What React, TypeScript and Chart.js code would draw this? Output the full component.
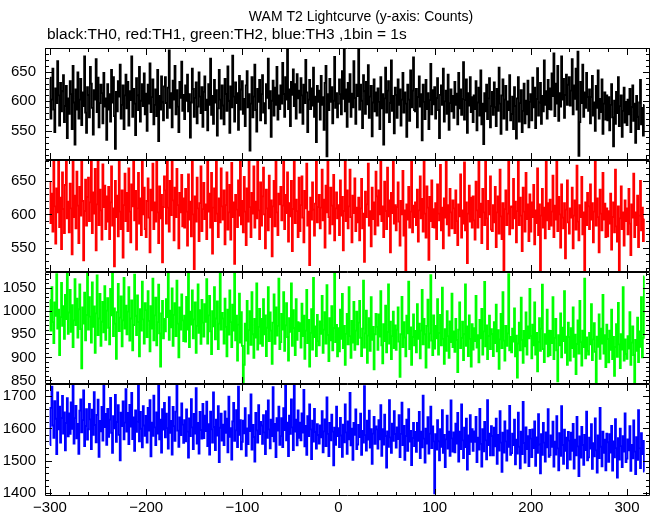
import { useEffect, useRef } from 'react';
import { Chart, registerables } from 'chart.js';

Chart.register(...registerables);

// Lightcurve bins: first bin at t = -300 s, 1 bin = 1 s
const TIME_START = -300;

const TH0 = [
  640, 571, 603, 655, 586, 548, 622, 597, 668, 610, 559, 631, 583, 617, 644, 565, 592, 626, 538, 605,
  579, 634, 612, 553, 660, 598, 527, 620, 586, 649, 571, 603, 638, 560, 615, 592, 676, 581, 547, 624,
  611, 573, 658, 630, 589, 544, 619, 603, 671, 582, 640, 556, 597, 628, 614, 563, 648, 591, 605, 535,
  629, 586, 612, 566, 653, 598, 641, 575, 520, 616, 583, 634, 608, 662, 571, 594, 627, 553, 610, 645,
  588, 633, 559, 617, 602, 676, 574, 621, 596, 543, 639, 610, 585, 658, 566, 601, 629, 592, 647, 578,
  613, 550, 628, 596, 664, 582, 607, 637, 561, 594, 620, 575, 653, 533, 609, 586, 642, 598, 568, 625,
  641, 597, 572, 623, 686, 589, 614, 556, 635, 603, 660, 578, 619, 591, 548, 633, 606, 667, 584, 611,
  570, 627, 601, 645, 583, 612, 539, 598, 655, 621, 574, 606, 632, 563, 591, 649, 608, 580, 624, 557,
  616, 642, 585, 603, 551, 629, 594, 672, 577, 609, 562, 636, 598, 619, 542, 588, 653, 603, 571, 627,
  593, 561, 638, 612, 584, 659, 601, 547, 625, 590, 677, 608, 566, 632, 597, 614, 552, 643, 586, 620,
  634, 579, 604, 558, 627, 651, 590, 612, 517, 596, 641, 573, 608, 662, 585, 549, 621, 599, 636, 568,
  612, 644, 581, 597, 563, 629, 606, 672, 588, 617, 540, 601, 635, 576, 623, 594, 658, 569, 610, 587,
  627, 596, 665, 612, 574, 641, 603, 688, 587, 620, 558, 633, 611, 654, 592, 629, 571, 646, 605, 618,
  581, 639, 610, 562, 628, 597, 670, 615, 548, 603, 636, 587, 622, 593, 657, 574, 608, 531, 626, 599,
  618, 569, 643, 594, 607, 552, 631, 660, 507, 612, 585, 638, 599, 624, 563, 601, 675, 589, 614, 573,
  596, 637, 612, 578, 651, 604, 689, 583, 620, 557, 631, 599, 646, 574, 613, 590, 668, 606, 562, 628,
  609, 690, 586, 628, 601, 555, 644, 617, 579, 633, 595, 661, 572, 608, 626, 541, 598, 637, 583, 615,
  576, 622, 599, 553, 641, 588, 612, 527, 605, 657, 581, 618, 634, 565, 597, 669, 584, 609, 546, 623,
  611, 572, 637, 594, 620, 559, 603, 648, 581, 615, 596, 540, 628, 603, 567, 652, 590, 618, 674, 585,
  583, 621, 556, 607, 642, 591, 612, 534, 628, 599, 570, 636, 587, 614, 553, 602, 663, 578, 619, 595,
  624, 571, 606, 639, 585, 538, 611, 627, 594, 655, 566, 600, 618, 579, 645, 552, 597, 620, 583, 609,
  572, 633, 594, 613, 561, 648, 588, 620, 577, 604, 666, 569, 602, 637, 547, 614, 593, 641, 582, 607,
  565, 610, 587, 634, 551, 598, 623, 576, 652, 561, 596, 528, 614, 583, 628, 570, 605, 639, 556, 592,
  616, 577, 632, 590, 558, 621, 584, 657, 596, 545, 610, 637, 571, 603, 626, 552, 600, 585, 644, 568,
  579, 608, 553, 624, 592, 537, 605, 641, 566, 597, 619, 548, 584, 630, 563, 601, 578, 635, 556, 599,
  612, 568, 640, 590, 623, 555, 604, 656, 576, 598, 631, 562, 609, 583, 669, 594, 617, 571, 636, 587,
  622, 586, 647, 609, 681, 575, 630, 596, 660, 567, 614, 591, 676, 603, 638, 572, 611, 645, 594, 628,
  641, 593, 618, 671, 578, 627, 604, 655, 586, 684, 508, 565, 633, 597, 662, 574, 615, 589, 648, 607,
  584, 620, 563, 607, 643, 576, 598, 550, 626, 589, 652, 571, 604, 582, 637, 545, 596, 615, 569, 610,
  568, 607, 551, 594, 629, 573, 524, 601, 562, 616, 580, 641, 558, 592, 610, 540, 584, 623, 564, 599,
  560, 603, 578, 621, 548, 590, 627, 567, 596, 530, 609, 574, 553, 598, 636, 561, 589, 542, 594,
];

const TH1 = [
  648, 587, 631, 574, 690, 612, 556, 639, 603, 701, 581, 625, 548, 663, 608, 572, 644, 683, 594, 619,
  573, 646, 609, 540, 695, 596, 628, 579, 664, 613, 557, 641, 598, 680, 620, 531, 605, 652, 583, 626,
  655, 590, 618, 692, 572, 633, 601, 668, 546, 615, 705, 584, 637, 606, 562, 675, 611, 643, 578, 627,
  589, 641, 563, 618, 672, 583, 609, 522, 650, 596, 628, 567, 687, 604, 578, 636, 535, 614, 661, 590,
  632, 575, 669, 604, 558, 645, 612, 710, 591, 635, 547, 609, 662, 586, 624, 569, 681, 600, 640, 578,
  566, 620, 654, 595, 543, 637, 606, 676, 578, 618, 589, 692, 603, 557, 642, 594, 629, 528, 611, 657,
  636, 586, 679, 610, 574, 650, 599, 700, 621, 561, 640, 596, 668, 614, 549, 632, 603, 659, 582, 624,
  580, 638, 604, 553, 660, 592, 619, 567, 684, 600, 518, 627, 589, 655, 609, 560, 617, 672, 575, 608,
  647, 593, 615, 563, 688, 604, 631, 580, 662, 541, 610, 639, 590, 703, 601, 566, 624, 588, 669, 612,
  592, 636, 555, 614, 663, 577, 603, 644, 562, 677, 596, 618, 526, 629, 607, 581, 651, 598, 694, 585,
  620, 573, 656, 604, 554, 639, 589, 685, 611, 566, 632, 601, 672, 580, 619, 594, 708, 606, 563, 648,
  583, 627, 670, 600, 549, 637, 609, 576, 658, 596, 621, 537, 612, 650, 582, 690, 603, 569, 631, 615,
  641, 591, 613, 706, 578, 629, 602, 663, 559, 617, 597, 650, 545, 608, 681, 587, 622, 605, 566, 655,
  575, 614, 657, 595, 558, 635, 609, 676, 583, 604, 524, 625, 592, 648, 607, 568, 616, 689, 588, 611,
  629, 579, 610, 667, 591, 622, 550, 643, 603, 699, 596, 571, 640, 613, 585, 659, 561, 609, 633, 594,
  614, 569, 651, 598, 626, 546, 605, 707, 590, 636, 579, 612, 667, 596, 558, 628, 602, 654, 575, 610,
  588, 625, 561, 609, 653, 579, 601, 529, 634, 596, 615, 676, 583, 605, 552, 640, 593, 618, 570, 664,
  627, 583, 636, 600, 686, 590, 612, 566, 649, 605, 578, 670, 597, 621, 543, 632, 602, 704, 586, 614,
  576, 611, 648, 589, 553, 620, 600, 665, 568, 606, 505, 615, 592, 641, 580, 604, 683, 573, 613, 596,
  618, 584, 637, 559, 606, 657, 594, 623, 574, 684, 601, 565, 642, 610, 532, 626, 590, 651, 581, 608,
  580, 617, 563, 645, 601, 591, 674, 576, 610, 549, 624, 595, 697, 585, 614, 568, 638, 603, 579, 621,
  609, 572, 636, 590, 554, 615, 597, 660, 565, 606, 586, 678, 576, 618, 527, 601, 643, 589, 625, 580,
  627, 591, 562, 649, 606, 580, 686, 596, 616, 557, 638, 603, 584, 703, 594, 548, 620, 600, 657, 577,
  575, 614, 588, 641, 551, 603, 627, 571, 667, 597, 563, 617, 512, 608, 636, 584, 601, 688, 570, 611,
  612, 579, 653, 594, 619, 558, 605, 679, 584, 625, 598, 545, 640, 604, 574, 662, 593, 615, 560, 630,
  574, 618, 596, 644, 555, 606, 587, 669, 569, 615, 506, 598, 638, 580, 610, 564, 684, 591, 617, 578,
  622, 583, 604, 658, 566, 613, 592, 691, 575, 626, 600, 550, 645, 595, 579, 617, 534, 607, 651, 588,
  571, 609, 595, 640, 549, 598, 621, 577, 673, 589, 561, 614, 596, 656, 570, 603, 515, 618, 584, 632,
  612, 578, 645, 592, 617, 558, 604, 702, 583, 624, 596, 543, 637, 601, 576, 662, 592, 616, 566, 609,
  567, 605, 586, 631, 547, 596, 618, 573, 667, 582, 559, 612, 509, 594, 642, 578, 603, 553, 621, 590,
  609, 570, 638, 586, 539, 615, 595, 661, 566, 603, 584, 628, 551, 598, 650, 576, 610, 560, 593,
];

const TH2 = [
  1024, 958, 1052, 976, 931, 1019, 990, 1080, 962, 1003, 905, 987, 1061, 968, 1011, 940, 1035, 983, 1090, 951,
  997, 1046, 955, 1013, 922, 980, 1069, 970, 1027, 943, 1004, 1058, 961, 876, 1008, 973, 1040, 937, 992, 1085,
  960, 1030, 988, 932, 1062, 966, 1010, 910, 995, 1077, 948, 984, 1037, 925, 977, 1020, 954, 1054, 938, 1001,
  1028, 964, 928, 1048, 991, 1088, 946, 1006, 973, 897, 998, 1059, 957, 986, 1032, 924, 980, 1072, 962, 1012,
  950, 999, 1052, 936, 984, 1023, 915, 970, 1079, 990, 948, 1034, 976, 902, 1004, 958, 1064, 982, 930, 1017,
  1002, 944, 1043, 979, 913, 1011, 962, 1070, 937, 991, 1029, 926, 976, 1057, 952, 880, 995, 1022, 941, 983,
  956, 1026, 987, 1095, 938, 1001, 965, 1049, 925, 992, 1017, 946, 1066, 973, 900, 1008, 960, 1036, 980, 935,
  990, 934, 1031, 960, 1092, 922, 999, 971, 1045, 941, 982, 1019, 910, 968, 1058, 953, 1002, 929, 1024, 975,
  945, 1015, 977, 1069, 930, 991, 1033, 956, 907, 1000, 967, 1052, 939, 984, 1021, 918, 973, 1083, 960, 996,
  984, 930, 1027, 966, 902, 1003, 949, 1045, 976, 922, 1014, 958, 1091, 937, 990, 893, 971, 1038, 932, 998,
  925, 843, 884, 973, 936, 1022, 908, 959, 1000, 927, 1041, 950, 899, 983, 943, 1060, 917, 966, 1005, 930,
  983, 925, 1026, 950, 991, 903, 964, 1052, 935, 997, 958, 886, 975, 1036, 929, 1008, 947, 968, 1070, 918,
  933, 994, 960, 1041, 914, 969, 1017, 944, 893, 985, 955, 1060, 925, 1002, 963, 905, 1026, 938, 976, 957,
  974, 921, 1016, 946, 990, 897, 958, 1046, 931, 981, 880, 953, 1004, 917, 1072, 944, 967, 903, 992, 935,
  926, 978, 951, 1033, 910, 960, 998, 930, 1056, 948, 892, 985, 937, 1011, 915, 963, 1085, 933, 970, 902,
  963, 913, 1003, 940, 1037, 920, 968, 884, 951, 994, 928, 1052, 946, 899, 979, 932, 1020, 916, 958, 999,
  928, 975, 1022, 942, 903, 962, 1066, 921, 952, 1001, 888, 947, 985, 914, 1030, 938, 966, 874, 950, 994,
  966, 916, 993, 945, 1043, 926, 887, 972, 935, 1012, 911, 955, 1058, 930, 977, 896, 946, 999, 920, 969,
  916, 960, 1008, 934, 858, 950, 1031, 922, 976, 943, 902, 990, 952, 1064, 918, 965, 884, 944, 993, 926,
  957, 911, 1015, 940, 973, 898, 958, 1046, 928, 983, 950, 878, 968, 1025, 921, 952, 1078, 936, 905, 991,
  919, 968, 941, 1026, 906, 953, 992, 926, 1051, 940, 886, 961, 914, 1000, 946, 899, 978, 933, 1038, 922,
  956, 912, 983, 938, 868, 960, 1019, 920, 942, 977, 894, 950, 1058, 925, 967, 903, 991, 940, 880, 972,
  917, 963, 935, 1033, 921, 948, 889, 981, 941, 1005, 906, 956, 1063, 924, 969, 896, 946, 990, 918, 961,
  950, 903, 976, 931, 1014, 913, 959, 875, 939, 994, 920, 1041, 936, 893, 968, 925, 952, 1080, 915, 944,
  911, 962, 934, 1006, 902, 947, 856, 930, 975, 915, 1029, 938, 888, 957, 924, 997, 906, 967, 941, 1048,
  946, 898, 971, 926, 1019, 906, 953, 870, 933, 985, 914, 962, 1057, 918, 890, 950, 929, 1003, 902, 958,
  905, 957, 931, 1030, 896, 942, 983, 915, 848, 948, 926, 995, 900, 964, 935, 1043, 910, 945, 884, 975,
  944, 893, 963, 920, 1008, 901, 949, 864, 929, 980, 908, 1022, 933, 882, 958, 922, 1070, 898, 943, 914,
  906, 953, 928, 1015, 894, 939, 974, 912, 845, 945, 923, 993, 897, 962, 930, 1035, 908, 948, 879, 971,
  940, 889, 958, 916, 1003, 896, 944, 860, 922, 972, 901, 1018, 928, 877, 950, 917, 1052, 893, 939, 907,
  897, 946, 919, 998, 884, 932, 967, 905, 843, 938, 914, 986, 890, 956, 923, 1030, 900, 942, 1075,
];

const TH3 = [
  1548, 1664, 1730, 1609, 1571, 1685, 1630, 1520, 1712, 1597, 1668, 1556, 1633, 1701, 1584, 1650, 1532, 1617, 1694, 1575,
  1647, 1583, 1681, 1599, 1738, 1553, 1632, 1670, 1569, 1614, 1521, 1655, 1690, 1588, 1626, 1718, 1545, 1608, 1660, 1565,
  1597, 1676, 1628, 1536, 1658, 1580, 1713, 1611, 1557, 1642, 1689, 1512, 1623, 1591, 1667, 1562, 1735, 1604, 1645, 1549,
  1661, 1574, 1627, 1695, 1586, 1524, 1638, 1600, 1704, 1558, 1620, 1672, 1580, 1501, 1649, 1607, 1684, 1566, 1618, 1722,
  1590, 1648, 1551, 1673, 1606, 1710, 1567, 1634, 1530, 1656, 1589, 1621, 1738, 1560, 1651, 1599, 1541, 1669, 1609, 1577,
  1639, 1556, 1664, 1593, 1688, 1513, 1618, 1577, 1702, 1603, 1548, 1650, 1584, 1733, 1566, 1627, 1525, 1660, 1596, 1679,
  1572, 1646, 1601, 1537, 1697, 1586, 1623, 1519, 1667, 1607, 1561, 1652, 1738, 1593, 1543, 1634, 1579, 1678, 1612, 1555,
  1626, 1560, 1659, 1590, 1509, 1631, 1576, 1691, 1603, 1536, 1645, 1584, 1725, 1553, 1617, 1522, 1651, 1595, 1568, 1676,
  1570, 1640, 1592, 1683, 1545, 1613, 1519, 1652, 1597, 1556, 1712, 1605, 1533, 1627, 1578, 1669, 1495, 1602, 1646, 1562,
  1612, 1548, 1653, 1586, 1630, 1526, 1699, 1574, 1601, 1503, 1622, 1679, 1561, 1594, 1657, 1542, 1730, 1580, 1626, 1535,
  1558, 1624, 1585, 1663, 1515, 1600, 1551, 1641, 1592, 1706, 1534, 1611, 1573, 1497, 1648, 1594, 1556, 1672, 1582, 1620,
  1609, 1552, 1641, 1588, 1520, 1654, 1571, 1687, 1597, 1538, 1627, 1576, 1728, 1560, 1614, 1511, 1632, 1593, 1668, 1549,
  1576, 1632, 1542, 1663, 1595, 1735, 1563, 1618, 1514, 1640, 1583, 1690, 1603, 1533, 1738, 1590, 1627, 1547, 1656, 1571,
  1618, 1563, 1647, 1587, 1720, 1544, 1608, 1518, 1638, 1576, 1675, 1597, 1505, 1624, 1559, 1661, 1589, 1537, 1613, 1580,
  1553, 1609, 1572, 1654, 1526, 1591, 1628, 1545, 1696, 1583, 1514, 1617, 1563, 1643, 1590, 1485, 1602, 1549, 1668, 1576,
  1601, 1542, 1633, 1578, 1512, 1612, 1557, 1675, 1588, 1521, 1622, 1566, 1710, 1547, 1599, 1502, 1617, 1580, 1659, 1536,
  1550, 1611, 1573, 1646, 1518, 1592, 1556, 1731, 1579, 1531, 1624, 1565, 1655, 1540, 1598, 1490, 1584, 1636, 1552, 1606,
  1597, 1537, 1626, 1566, 1672, 1515, 1598, 1550, 1643, 1576, 1478, 1591, 1543, 1688, 1572, 1524, 1615, 1561, 1654, 1583,
  1540, 1603, 1567, 1641, 1511, 1583, 1680, 1548, 1608, 1502, 1576, 1627, 1530, 1660, 1559, 1592, 1486, 1570, 1617, 1545,
  1589, 1527, 1617, 1561, 1651, 1508, 1590, 1541, 1702, 1568, 1494, 1599, 1553, 1635, 1522, 1584, 1668, 1539, 1606, 1560,
  1398, 1582, 1534, 1626, 1560, 1501, 1598, 1543, 1657, 1524, 1580, 1480, 1566, 1640, 1537, 1590, 1515, 1687, 1569, 1528,
  1588, 1526, 1615, 1553, 1648, 1497, 1590, 1536, 1675, 1563, 1508, 1602, 1542, 1630, 1472, 1578, 1520, 1641, 1558, 1598,
  1530, 1591, 1558, 1636, 1495, 1571, 1534, 1661, 1552, 1481, 1598, 1529, 1620, 1563, 1504, 1688, 1548, 1584, 1516, 1607,
  1576, 1516, 1602, 1544, 1630, 1490, 1580, 1531, 1654, 1556, 1465, 1587, 1525, 1622, 1560, 1500, 1594, 1543, 1670, 1518,
  1523, 1584, 1548, 1627, 1488, 1565, 1522, 1649, 1543, 1476, 1590, 1520, 1682, 1554, 1494, 1603, 1536, 1576, 1483, 1595,
  1568, 1511, 1597, 1539, 1622, 1484, 1572, 1524, 1644, 1550, 1460, 1582, 1518, 1617, 1556, 1497, 1588, 1541, 1660, 1512,
  1517, 1578, 1543, 1621, 1481, 1559, 1519, 1638, 1538, 1470, 1585, 1515, 1669, 1548, 1490, 1596, 1530, 1571, 1476, 1589,
  1562, 1503, 1587, 1530, 1614, 1475, 1565, 1516, 1636, 1544, 1452, 1575, 1509, 1605, 1549, 1487, 1580, 1533, 1652, 1501,
  1510, 1571, 1537, 1613, 1474, 1554, 1513, 1631, 1532, 1463, 1578, 1508, 1664, 1543, 1482, 1590, 1524, 1565, 1470, 1584,
  1557, 1496, 1582, 1525, 1608, 1469, 1560, 1510, 1629, 1539, 1447, 1570, 1503, 1599, 1545, 1480, 1576, 1528, 1647, 1495,
  1506, 1566, 1532, 1607, 1468, 1549, 1507, 1625, 1528, 1458, 1573, 1502, 1657, 1538, 1477, 1585, 1520, 1561, 1466,
];

const SERIES = [TH0, TH1, TH2, TH3];
const SERIES_NAMES = ['TH0', 'TH1', 'TH2', 'TH3'];
const COLORS = ['#000000', '#ff0000', '#00ff00', '#0000ff'];

const X_TICKS = [-300, -200, -100, 0, 100, 200, 300];
const X_MIN = -305.2;
const X_MAX = 323.9;
const X_MINOR = 20;

const Y_TICKS = [
  [550, 600, 650],
  [550, 600, 650],
  [850, 900, 950, 1000, 1050],
  [1400, 1500, 1600, 1700],
];
const Y_MIN = [501, 513.6, 842.4, 1390];
const Y_MAX = [690, 681.5, 1084.6, 1738];
const Y_MINOR = [10, 10, 10, 20];

const TITLE = 'WAM T2 Lightcurve (y-axis: Counts)';
const SUBTITLE = 'black:TH0, red:TH1, green:TH2, blue:TH3 ,1bin = 1s';

const FONT_FAMILY = "'Liberation Sans', Arial, Helvetica, sans-serif";

const fmt = (v: number) => (v < 0 ? '\u2212' + Math.abs(v) : String(v));

const panelPlugin = {
  id: 'panelFrames',
  beforeDatasetDraw(chart: any, args: any) {
    const ys = chart.scales[args.meta.yAxisID];
    const { left, right } = chart.chartArea;
    const ctx = chart.ctx;
    ctx.save();
    ctx.beginPath();
    ctx.rect(left, ys.top, right - left, ys.bottom - ys.top);
    ctx.clip();
  },
  afterDatasetDraw(chart: any) {
    chart.ctx.restore();
  },
  afterDraw(chart: any) {
    const ctx = chart.ctx;
    const xs = chart.scales.x;
    const { left, right } = chart.chartArea;
    ctx.save();
    ctx.strokeStyle = '#000';
    ctx.lineWidth = 1;
    for (let i = 0; i < 4; i++) {
      const ys = chart.scales['y' + i];
      const top = Math.round(ys.top);
      const bottom = Math.round(ys.bottom);
      ctx.beginPath();
      ctx.rect(left + 0.5, top + 0.5, right - left - 1, bottom - top - 1);
      ctx.stroke();
      ctx.beginPath();
      for (let v = -300; v <= X_MAX; v += X_MINOR) {
        const px = Math.round(xs.getPixelForValue(v)) + 0.5;
        const len = v % 100 === 0 ? 7 : 4;
        ctx.moveTo(px, top);
        ctx.lineTo(px, top + len);
        ctx.moveTo(px, bottom);
        ctx.lineTo(px, bottom - len);
      }
      const minor = Y_MINOR[i];
      for (let v = Math.ceil(Y_MIN[i] / minor) * minor; v <= Y_MAX[i]; v += minor) {
        const py = Math.round(ys.getPixelForValue(v)) + 0.5;
        const len = v % (minor * 5) === 0 ? 7 : 4;
        ctx.moveTo(left, py);
        ctx.lineTo(left + len, py);
        ctx.moveTo(right, py);
        ctx.lineTo(right - len, py);
      }
      ctx.stroke();
    }
    ctx.fillStyle = '#000';
    ctx.textBaseline = 'middle';
    ctx.font = '14px ' + FONT_FAMILY;
    ctx.textAlign = 'center';
    ctx.fillText(TITLE, 361, 17);
    ctx.font = '15.5px ' + FONT_FAMILY;
    ctx.textAlign = 'left';
    ctx.fillText(SUBTITLE, 47, 35);
    ctx.restore();
  },
};

export default function App() {
  const canvasRef = useRef<HTMLCanvasElement | null>(null);

  useEffect(() => {
    const canvas = canvasRef.current;
    if (!canvas) return;

    const datasets = SERIES.map((values, i) => ({
      label: SERIES_NAMES[i],
      data: values.map((v, k) => ({ x: TIME_START + k, y: v })),
      borderColor: COLORS[i],
      backgroundColor: COLORS[i],
      borderWidth: 1.8,
      pointRadius: 0,
      stepped: 'middle' as const,
      fill: false,
      yAxisID: 'y' + i,
    }));

    const tickFont = { family: FONT_FAMILY, size: 15 };

    const scales: any = {
      x: {
        type: 'linear',
        position: 'bottom',
        min: X_MIN,
        max: X_MAX,
        grid: { display: false, drawTicks: false },
        border: { display: false },
        ticks: {
          color: '#000',
          font: tickFont,
          padding: 3,
          autoSkip: false,
          maxRotation: 0,
          includeBounds: false,
          callback: (v: any) => fmt(Number(v)),
        },
        afterBuildTicks: (scale: any) => {
          scale.ticks = X_TICKS.map((v) => ({ value: v }));
        },
        afterFit: (scale: any) => {
          scale.height = 19;
        },
      },
    };

    for (let i = 0; i < 4; i++) {
      scales['y' + i] = {
        type: 'linear',
        position: 'left',
        stack: 'lightcurve',
        stackWeight: 1,
        weight: 4 - i,
        offset: false,
        min: Y_MIN[i],
        max: Y_MAX[i],
        grid: { display: false, drawTicks: false },
        border: { display: false },
        ticks: {
          color: '#000',
          font: tickFont,
          padding: 9,
          autoSkip: false,
          includeBounds: false,
          callback: (v: any) => fmt(Number(v)),
        },
        afterBuildTicks: (scale: any) => {
          scale.ticks = Y_TICKS[i].map((v) => ({ value: v }));
        },
        afterFit: (scale: any) => {
          scale.width = 45;
        },
      };
    }

    const chart = new Chart(canvas, {
      type: 'line',
      data: { datasets },
      options: {
        animation: false,
        responsive: false,
        devicePixelRatio: 1,
        layout: { padding: { top: 48, right: 2, left: 0, bottom: 0 } },
        plugins: {
          legend: { display: false },
          tooltip: { enabled: false },
          title: { display: false },
        },
        events: [],
        scales,
      },
      plugins: [panelPlugin],
    });

    return () => {
      chart.destroy();
    };
  }, []);

  return (
    <div style={{ position: 'fixed', left: 0, top: 0, width: 652, height: 515, background: '#fff' }}>
      <canvas ref={canvasRef} width={652} height={515} style={{ display: 'block', width: 652, height: 515 }} />
    </div>
  );
}
